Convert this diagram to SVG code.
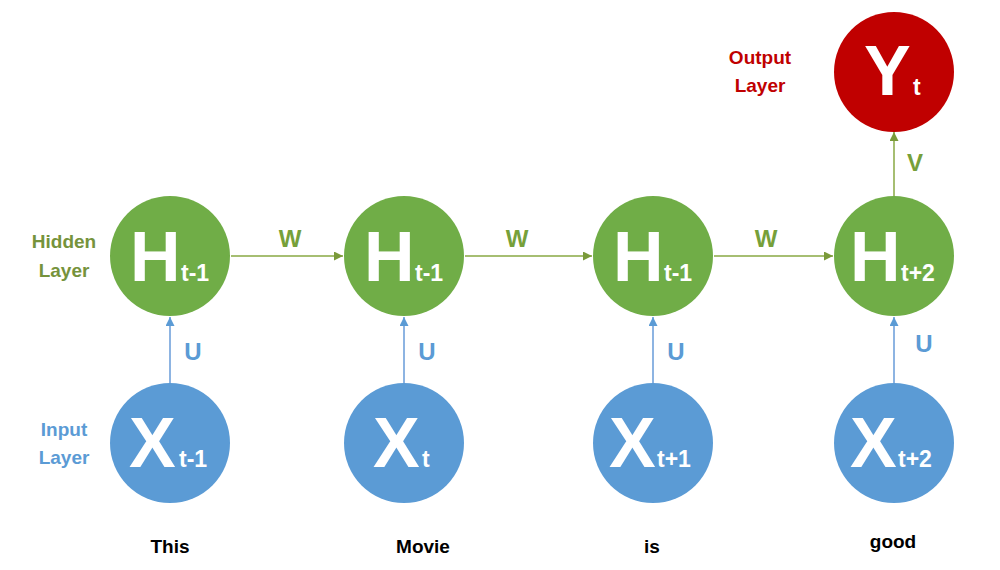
<svg xmlns="http://www.w3.org/2000/svg" width="1000" height="570" viewBox="0 0 1000 570">
<style>
text{font-family:"Liberation Sans",Arial,sans-serif;font-weight:bold}
.hid{fill:#70ad47}.inp{fill:#5b9bd5}.out{fill:#c00000}
.big{fill:#fff;font-size:70px}
.sub{fill:#fff;font-size:23px}
.lg{fill:#76a03a;font-size:24px;text-anchor:middle}
.lb{fill:#5b9bd5;font-size:24px;text-anchor:middle}
.lay{font-size:19px;text-anchor:middle}
.word{fill:#000;font-size:19px;text-anchor:middle}
.cg{stroke:#a6be72;stroke-width:2;fill:none}
.cb{stroke:#8db4e2;stroke-width:2;fill:none}
</style>
<defs>
<marker id="ag" viewBox="0 0 10 10" refX="10" refY="5" markerWidth="10" markerHeight="9" orient="auto" markerUnits="userSpaceOnUse"><path d="M0,0 L10,5 L0,10 z" fill="#7a9a3a"/></marker>
<marker id="ab" viewBox="0 0 10 10" refX="10" refY="5" markerWidth="10" markerHeight="9" orient="auto" markerUnits="userSpaceOnUse"><path d="M0,0 L10,5 L0,10 z" fill="#5b9bd5"/></marker>
</defs>
<rect width="1000" height="570" fill="#fff"/>
<g id="connectors">
<line class="cg" x1="231" y1="256" x2="343" y2="256" marker-end="url(#ag)"/>
<line class="cg" x1="465" y1="256" x2="592" y2="256" marker-end="url(#ag)"/>
<line class="cg" x1="714" y1="256" x2="833" y2="256" marker-end="url(#ag)"/>
<line class="cg" x1="894" y1="196" x2="894" y2="132" marker-end="url(#ag)"/>
<line class="cb" x1="170" y1="383" x2="170" y2="317" marker-end="url(#ab)"/>
<line class="cb" x1="404" y1="383" x2="404" y2="317" marker-end="url(#ab)"/>
<line class="cb" x1="653" y1="383" x2="653" y2="317" marker-end="url(#ab)"/>
<line class="cb" x1="894" y1="383" x2="894" y2="317" marker-end="url(#ab)"/>
<text class="lg" x="290" y="247">W</text>
<text class="lg" x="517" y="247">W</text>
<text class="lg" x="766" y="247">W</text>
<text class="lg" x="915" y="171">V</text>
<text class="lb" x="193" y="360">U</text>
<text class="lb" x="427" y="360">U</text>
<text class="lb" x="676" y="360">U</text>
<text class="lb" x="924" y="352">U</text>
</g>
<g id="labels">
<text class="lay" fill="#76933c" x="64" y="248">Hidden</text>
<text class="lay" fill="#76933c" x="64" y="277">Layer</text>
<text class="lay" fill="#5b9bd5" x="64" y="436">Input</text>
<text class="lay" fill="#5b9bd5" x="64" y="464">Layer</text>
<text class="lay" fill="#c00000" x="760" y="64">Output</text>
<text class="lay" fill="#c00000" x="760" y="92">Layer</text>
</g>
<g id="H1"><circle class="hid" cx="170" cy="256" r="60"/><text class="big" x="130" y="281">H</text><text class="sub" x="181" y="281">t-1</text></g>
<g id="H2"><circle class="hid" cx="404" cy="256" r="60"/><text class="big" x="364" y="281">H</text><text class="sub" x="415" y="281">t-1</text></g>
<g id="H3"><circle class="hid" cx="653" cy="256" r="60"/><text class="big" x="613" y="281">H</text><text class="sub" x="664" y="281">t-1</text></g>
<g id="H4"><circle class="hid" cx="894" cy="256" r="60"/><text class="big" x="850" y="281">H</text><text class="sub" x="901" y="281">t+2</text></g>
<g id="Y"><circle class="out" cx="894" cy="72" r="60"/><text class="big" x="864" y="95">Y</text><text class="sub" x="913" y="95">t</text></g>
<g id="X1"><circle class="inp" cx="170" cy="443" r="60"/><text class="big" x="129" y="467">X</text><text class="sub" x="179" y="467">t-1</text></g>
<g id="X2"><circle class="inp" cx="404" cy="443" r="60"/><text class="big" x="373" y="467">X</text><text class="sub" x="422" y="467">t</text></g>
<g id="X3"><circle class="inp" cx="653" cy="443" r="60"/><text class="big" x="609" y="467">X</text><text class="sub" x="657" y="467">t+1</text></g>
<g id="X4"><circle class="inp" cx="894" cy="443" r="60"/><text class="big" x="850" y="467">X</text><text class="sub" x="898" y="467">t+2</text></g>
<g id="words">
<text class="word" x="170" y="553">This</text>
<text class="word" x="423" y="553">Movie</text>
<text class="word" x="652" y="553">is</text>
<text class="word" x="893" y="548">good</text>
</g>
</svg>
